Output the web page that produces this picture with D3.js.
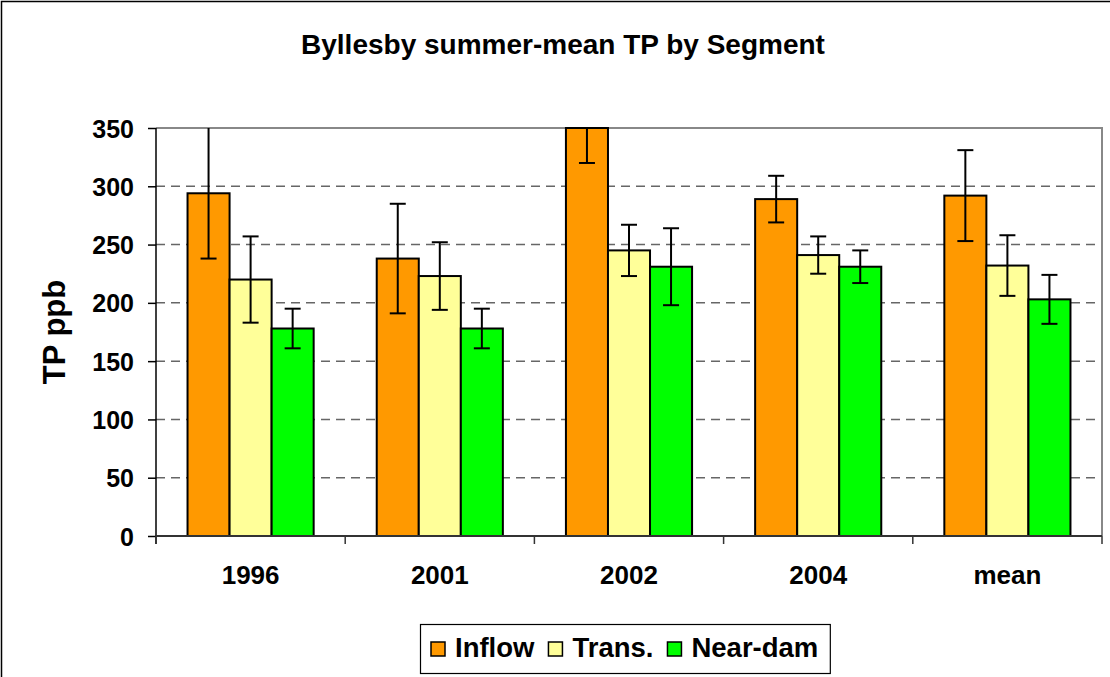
<!DOCTYPE html>
<html>
<head>
<meta charset="utf-8">
<script src="https://cdn.jsdelivr.net/npm/d3@7"></script>
<style>
  body { margin: 0; background: #fff; }
  text { font-family: "Liberation Sans", Arial, sans-serif; font-weight: bold; fill: #000; }
</style>
</head>
<body>
<svg id="chart" width="1110" height="677"></svg>
<script>
// data
var categories = ["1996", "2001", "2002", "2004", "mean"];
var seriesNames = ["Inflow", "Trans.", "Near-dam"];
var seriesColors = ["#FF9900", "#FFFF99", "#00FF00"];
var inflow = [294, 238, 350, 289, 292];
var inflowErr = [56, 47, 30, 20, 39];
var trans = [220, 223, 245, 241, 232];
var transErr = [37, 29, 22, 16, 26];
var nearDam = [178, 178, 231, 231, 203];
var nearDamErr = [17, 17, 33, 14, 21];
var yTicks = [0, 50, 100, 150, 200, 250, 300, 350];

var values = [inflow, trans, nearDam];
var errors = [inflowErr, transErr, nearDamErr];

var svg = d3.select("#chart");

// outer chart border
svg.append("rect")
    .attr("x", 1.5).attr("y", 1.5)
    .attr("width", 1140).attr("height", 700)
    .attr("fill", "#fff")
    .attr("stroke", "#000")
    .attr("stroke-width", 1.5);

var plotLeft = 156, plotRight = 1102, plotTop = 128, plotBottom = 536;

var x = d3.scaleBand().domain(categories).range([plotLeft, plotRight]);
var xs = d3.scaleBand().domain(seriesNames).range([0, x.bandwidth()])
    .paddingInner(0).paddingOuter(0.75);
var y = d3.scaleLinear().domain([0, 350]).range([plotBottom, plotTop]);

// title
svg.append("text")
    .attr("x", 563).attr("y", 54)
    .attr("text-anchor", "middle")
    .style("font-size", "28px")
    .text("Byllesby summer-mean TP by Segment");

// grid lines
svg.append("g").selectAll("line")
    .data(yTicks.filter(function (d) { return d > 0 && d < 350; }))
    .enter().append("line")
    .attr("x1", plotLeft).attr("x2", plotRight)
    .attr("y1", function (d) { return y(d); })
    .attr("y2", function (d) { return y(d); })
    .attr("stroke", "#666")
    .attr("stroke-width", 1.5)
    .attr("stroke-dasharray", "9,6");

// plot area top and right border
svg.append("path")
    .attr("d", "M" + plotLeft + "," + y(350) + "H" + plotRight + "V" + y(0))
    .attr("fill", "none")
    .attr("stroke", "#888")
    .attr("stroke-width", 2);

// bars
var barGroup = svg.append("g");
values.forEach(function (vals, s) {
    barGroup.selectAll(".bar" + s)
        .data(vals)
        .enter().append("rect")
        .attr("x", function (d, i) { return x(categories[i]) + xs(seriesNames[s]); })
        .attr("y", function (d) { return y(Math.min(d, 350)); })
        .attr("width", xs.bandwidth())
        .attr("height", function (d) { return y(0) - y(Math.min(d, 350)); })
        .attr("fill", seriesColors[s])
        .attr("stroke", "#000")
        .attr("stroke-width", 2);
});

// error bars
var errGroup = svg.append("g").attr("stroke", "#000").attr("stroke-width", 2);
values.forEach(function (vals, s) {
    vals.forEach(function (v, i) {
        var cx = x(categories[i]) + xs(seriesNames[s]) + xs.bandwidth() / 2;
        var hi = v + errors[s][i], lo = v - errors[s][i];
        errGroup.append("line")
            .attr("x1", cx).attr("x2", cx)
            .attr("y1", y(Math.min(hi, 350))).attr("y2", y(lo));
        errGroup.append("line")
            .attr("x1", cx - 8).attr("x2", cx + 8)
            .attr("y1", y(lo)).attr("y2", y(lo));
        if (hi < 350) {
            errGroup.append("line")
                .attr("x1", cx - 8).attr("x2", cx + 8)
                .attr("y1", y(hi)).attr("y2", y(hi));
        }
    });
});

// y axis
var yAxis = svg.append("g")
    .attr("transform", "translate(" + plotLeft + ",0)")
    .call(d3.axisLeft(y).tickValues(yTicks).tickSize(8).tickSizeOuter(0).tickPadding(14));
yAxis.select(".domain").remove();
yAxis.attr("font-family", null).attr("font-size", null);
yAxis.selectAll(".tick line").attr("stroke", "#000").attr("stroke-width", 1.5);
yAxis.selectAll("text").style("font-size", "25px").attr("dy", "0.36em");
svg.append("line")
    .attr("x1", plotLeft).attr("x2", plotLeft)
    .attr("y1", plotTop).attr("y2", plotBottom + 8)
    .attr("stroke", "#000").attr("stroke-width", 1.5);

// x axis
var xAxis = svg.append("g")
    .attr("transform", "translate(0," + plotBottom + ")")
    .call(d3.axisBottom(x).tickSize(0).tickPadding(30));
xAxis.select(".domain").remove();
xAxis.attr("font-family", null).attr("font-size", null);
xAxis.selectAll("text").style("font-size", "26px");
svg.append("line")
    .attr("x1", plotLeft).attr("x2", plotRight)
    .attr("y1", plotBottom).attr("y2", plotBottom)
    .attr("stroke", "#333").attr("stroke-width", 2);
var bounds = categories.map(function (c) { return x(c); }).concat([plotRight]);
svg.append("g").selectAll("line")
    .data(bounds).enter().append("line")
    .attr("x1", function (d) { return d; }).attr("x2", function (d) { return d; })
    .attr("y1", plotBottom).attr("y2", plotBottom + 8)
    .attr("stroke", "#333").attr("stroke-width", 1.5);

// y axis title
svg.append("text")
    .attr("transform", "translate(65," + ((plotTop + plotBottom) / 2) + ") rotate(-90)")
    .attr("text-anchor", "middle")
    .style("font-size", "31px")
    .text("TP ppb");

// legend
var legend = svg.append("g");
var legendBox = legend.append("rect")
    .attr("fill", "#fff")
    .attr("stroke", "#000")
    .attr("stroke-width", 1.2);
var lx = 431;
seriesNames.forEach(function (name, s) {
    legend.append("rect")
        .attr("x", lx).attr("y", 642)
        .attr("width", 14).attr("height", 14)
        .attr("fill", seriesColors[s])
        .attr("stroke", "#000")
        .attr("stroke-width", 1.5);
    var t = legend.append("text")
        .attr("x", lx + 24).attr("y", 657)
        .style("font-size", "27.5px")
        .text(name);
    lx = lx + 24 + t.node().getComputedTextLength() + 14;
});
legendBox.attr("x", 420.5).attr("y", 624.5)
    .attr("width", lx - 14 + 12 - 420.5).attr("height", 49);
</script>
</body>
</html>
